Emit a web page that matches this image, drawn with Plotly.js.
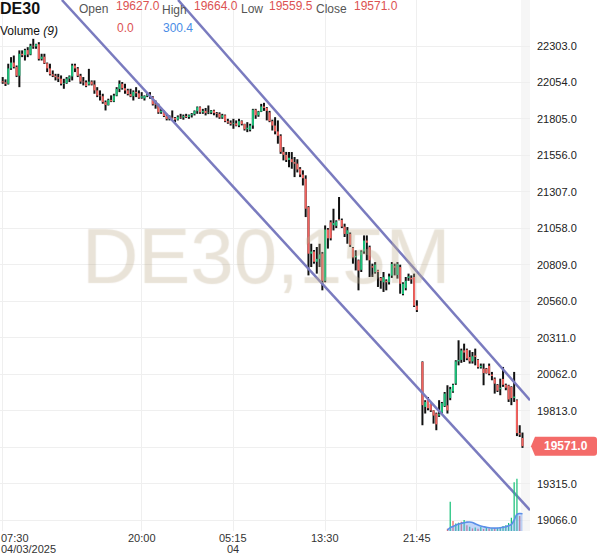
<!DOCTYPE html>
<html><head><meta charset="utf-8">
<script src="https://cdn.plot.ly/plotly-3.0.1.min.js"></script>
<style>html,body{margin:0;padding:0;background:#fff;}#chart{width:600px;height:558px;}</style>
</head><body><div id="chart"></div>
<script>
// ---- price bars (15 min), in time order ----
const openP = [22062,22055,22045,22150,22190,22160,22100,22250,22240,22275,22245,22305,22300,22315,22215,22230,22185,22150,22110,22100,
22090,22080,22045,22050,22080,22095,22170,22150,22100,22060,22055,22040,22060,22040,22000,21965,21960,21920,21900,21935,
21925,21965,22010,22045,22015,22000,21975,21960,21990,21980,21950,21945,21962,21970,21955,21905,21900,21850,21860,21825,
21805,21815,21812,21800,21820,21815,21825,21818,21830,21838,21858,21885,21850,21860,21845,21848,21862,21845,21840,21815,
21830,21790,21780,21770,21775,21760,21790,21770,21735,21730,21760,21868,21830,21855,21890,21880,21850,21790,21760,21720,
21690,21580,21560,21525,21530,21510,21500,21465,21425,21397,21203,20885,20900,20830,20850,20885,20700,21050,21100,21080,
21075,21120,21115,21070,21020,21020,20925,20860,20840,20775,20900,20975,20930,20800,20760,20770,20720,20690,20700,20690,
20735,20800,20740,20794,20610,20650,20720,20720,20726,20530,
20146,19839,19900,19860,19815,19794,19780,19800,19845,19850,19900,19945,19998,20150,20160,20225,20230,20180,20150,20190,
20160,20110,20100,20100,20120,20060,20032,19990,19960,20030,19990,19985,19975,19900,19885,19660,19627];
const highP = [22091,22075,22182,22227,22238,22170,22273,22273,22284,22295,22318,22352,22318,22329,22250,22250,22190,22182,22136,22113,
22113,22102,22079,22091,22102,22182,22182,22159,22113,22091,22068,22147,22068,22068,22022,22000,21977,21931,21943,21966,
21977,22022,22068,22057,22045,22011,22011,22000,22022,22000,21988,21966,21988,21988,21960,21931,21909,21875,21863,21840,
21829,21863,21818,21829,21840,21835,21840,21835,21845,21863,21890,21890,21874,21880,21897,21866,21868,21852,21850,21840,
21835,21806,21795,21806,21795,21806,21795,21772,21783,21772,21874,21874,21860,21908,21915,21886,21860,21800,21817,21795,
21700,21613,21580,21579,21579,21545,21530,21476,21454,21420,21210,20953,20910,20931,20953,20897,21078,21060,21113,21192,
21113,21272,21125,21090,21067,21030,20931,20908,20845,20908,21010,21010,20940,20817,20828,20775,20726,20760,20710,20749,
20828,20817,20828,20810,20690,20726,20749,20737,20749,20567,
20150,19885,19907,19862,19816,19800,19885,19873,19941,19987,19976,19998,20158,20294,20237,20271,20237,20226,20214,20237,
20165,20135,20135,20105,20135,20078,20040,19995,20032,20112,19998,19990,19980,20078,19890,19714,19664];
const lowP = [22045,22030,22040,22140,22150,22091,22022,22227,22204,22227,22240,22284,22284,22204,22204,22180,22125,22102,22091,22068,
22057,22034,22011,22045,22057,22068,22125,22091,22045,22034,22022,22034,22034,21977,21954,21931,21909,21863,21897,21920,
21920,21960,21988,22005,21977,21966,21954,21931,21954,21943,21943,21931,21954,21943,21897,21875,21840,21840,21818,21795,
21795,21808,21784,21795,21806,21800,21812,21806,21815,21829,21840,21840,21840,21829,21838,21838,21830,21815,21806,21806,
21783,21772,21760,21738,21755,21749,21761,21726,21715,21720,21738,21806,21820,21852,21860,21795,21783,21726,21700,21636,
21567,21522,21511,21476,21465,21408,21440,21408,21351,21135,20737,20794,20817,20749,20794,20635,20690,20920,20976,21044,
21060,21113,21060,20999,20953,20931,20817,20771,20635,20760,20885,20840,20726,20726,20749,20658,20646,20624,20635,20675,
20720,20737,20715,20612,20601,20635,20700,20680,20521,20487,
19714,19794,19816,19805,19725,19680,19771,19794,19839,19794,19885,19935,19990,20123,20140,20146,20158,20135,20135,20123,
20101,20101,19987,20067,20055,20021,19930,19941,19919,19976,19953,19873,19851,19873,19640,19634,19559.5];
const closeP = [22055,22045,22150,22190,22160,22100,22250,22240,22275,22245,22305,22300,22315,22215,22230,22185,22150,22110,22100,22090,
22080,22045,22050,22080,22095,22170,22150,22100,22060,22055,22030,22060,22040,22000,21965,21960,21920,21900,21935,21925,
21965,22010,22045,22015,22000,21975,21960,21990,21980,21950,21960,21962,21970,21960,21905,21900,21850,21860,21825,21805,
21815,21812,21800,21820,21815,21825,21818,21830,21838,21858,21885,21850,21860,21845,21848,21862,21845,21840,21815,21830,
21790,21780,21770,21775,21760,21790,21770,21735,21745,21760,21868,21830,21855,21890,21880,21860,21790,21760,21720,21690,
21580,21560,21525,21540,21510,21500,21460,21425,21400,21192,20885,20900,20830,20850,20880,20700,21050,20990,20990,21095,
21105,21115,21070,21020,21045,20945,20860,20870,20770,20900,20975,20960,20840,20790,20810,20760,20700,20725,20690,20730,
20815,20790,20815,20680,20680,20700,20730,20710,20530,20500,
19851,19873,19830,19815,19780,19720,19790,19865,19930,19815,19960,19990,20150,20160,20225,20210,20170,20150,20185,20180,
20110,20120,20070,20070,20065,20050,19998,19950,19970,19990,19970,19890,19900,19910,19660,19650,19571];
// the first 150 bars come before the session gap; one bar slot is empty after it
const barsBeforeGap = 150;

// ---- time axis ----
const timeTickPos = [0, 50, 83, 116, 149];
const timeTickLabels = ['07:30', '20:00', '05:15', '13:30', '21:45'];
const dateTickLabels = ['04/03/2025', '', '04', '', ''];

// ---- price axis ----
const priceTicks = [19066,19315,19564,19813,20062,20311,20560,20809,21058,21307,21556,21805,22054,22303];
const hiddenPriceTick = 19564; // covered by the last-price tag

// ---- volume (9) pane, last bars only ----
const volumeStartPos = 160;
const volume   = [40,510,175,130,145,160,190,100,75,45,60,40,70,35,60,45,50,35,55,70,85,100,140,230,850,910,260,0];
const volumeUp = [0,1,0,1,1,0,1,0,1,0,1,0,1,0,1,0,1,0,1,1,1,1,1,1,1,1,0,0];
const volumeMA = [17,60,80,100,120,135,145,155,157,150,125,105,87,75,64,57,52,50,52,56,64,75,90,115,190,290,305,300.4];

// ---- channel drawing (bar position, price) ----
const channelUpperX = [63.1, 189.7], channelUpperY = [22617, 19885];
const channelLowerX = [21.3, 189.7], channelLowerY = [22617, 19134];

// ---- header ----
const symbol = 'DE30';
const ohlcLabels = ['Open', 'High', 'Low', 'Close'];
const ohlcValues = ['19627.0', '19664.0', '19559.5', '19571.0'];
const volumeLabel = 'Volume <i>(9)</i>';
const volumeValues = ['0.0', '300.4'];
const watermark = 'DE30,15M';

// ---------- build ----------
const pos = openP.map((_, i) => i < barsBeforeGap ? i : i + 1);
const wx = [], wy = [], ux = [], uy = [], dx = [], dy = [];
pos.forEach((p, i) => {
  wx.push(p, p, null); wy.push(lowP[i], highP[i], null);
  if (closeP[i] >= openP[i]) { ux.push(p, p, null); uy.push(openP[i], closeP[i], null); }
  else { dx.push(p, p, null); dy.push(openP[i], closeP[i], null); }
});
const UP = '#1bc27b', DOWN = '#f2625e';
const volPos = volume.map((_, i) => volumeStartPos + i);

const traces = [
  {type:'bar', x: volPos, y: volume, yaxis:'y2', width:0.45,
   marker:{color: volumeUp.map(u => u ? UP : DOWN), line:{width:0}}, hoverinfo:'skip'},
  {type:'scatter', mode:'lines', x: volPos, y: volumeMA, yaxis:'y2', fill:'tozeroy',
   fillcolor:'rgba(120,165,240,0.45)', line:{color:'#5b8fe8', width:1.6, shape:'spline'}, hoverinfo:'skip'},
  {type:'scatter', mode:'lines', x: wx, y: wy, line:{color:'#111', width:2}, hoverinfo:'skip'},
  {type:'scatter', mode:'lines', x: ux, y: uy, line:{color:UP, width:2}, hoverinfo:'skip'},
  {type:'scatter', mode:'lines', x: dx, y: dy, line:{color:DOWN, width:2}, hoverinfo:'skip'},
  {type:'scatter', mode:'lines', x: channelUpperX, y: channelUpperY, line:{color:'#7a7bbf', width:2.5}, hoverinfo:'skip'},
  {type:'scatter', mode:'lines', x: channelLowerX, y: channelLowerY, line:{color:'#7a7bbf', width:2.5}, hoverinfo:'skip'}
];

const W = 530, H = 531;
const FONT = 'Liberation Sans, Arial, sans-serif';
const px = x => x / W, py = y => 1 - y / H;
const ann = [];
function txt(text, x, y, size, color, extra) {
  ann.push(Object.assign({text, xref:'paper', yref:'paper', x: px(x), y: py(y), xanchor:'left', yanchor:'middle',
    showarrow:false, borderpad:0, borderwidth:0, font:{family:FONT, size, color}}, extra || {}));
}
// watermark
ann.push({text: watermark, xref:'paper', yref:'paper', x: px(266), y: py(256), xanchor:'center', yanchor:'middle',
  showarrow:false, font:{family:FONT, size:78, color:'rgba(200,190,155,0.24)',
  shadow:'1px 0 0 rgba(170,160,125,0.16), -1px 0 0 rgba(170,160,125,0.16), 0 1px 0 rgba(170,160,125,0.16), 0 -1px 0 rgba(170,160,125,0.16)'}});
// header
txt('<b>' + symbol + '</b>', 0, 8, 16, '#111');
const labX = [79, 162, 241, 316], valX = [116, 194, 269, 354], labY = [9, 10, 9, 9];
ohlcLabels.forEach((l, i) => {
  txt(l, labX[i], labY[i], 12, '#555');
  txt(ohlcValues[i], valX[i], 6, 12, '#dc5252');
});
txt(volumeLabel, 0, 31, 12, '#111');
txt(volumeValues[0], 117, 28, 12, '#dc5252');
txt(volumeValues[1], 163, 28, 12, '#4a8de6');
// time labels
timeTickPos.forEach((p, i) => {
  const first = i === 0;
  const base = first ? {xref:'paper', x:0, xanchor:'left'} : {xref:'x', x:p, xanchor:'center'};
  ann.push(Object.assign({text: timeTickLabels[i], yref:'paper', y:0, yanchor:'top', yshift:0, showarrow:false,
    borderpad:0, font:{family:FONT, size:11, color:'#333'}}, base));
  if (dateTickLabels[i]) ann.push(Object.assign({text: dateTickLabels[i], yref:'paper', y:0, yanchor:'top', yshift:-11,
    showarrow:false, borderpad:0, font:{family:FONT, size:11, color:'#333'}}, base));
});
// last price tag
const lastClose = closeP[closeP.length - 1];
ann.push({text:'<b>' + lastClose.toFixed(1) + '</b>', xref:'paper', x:1, xanchor:'center', xshift:35.5,
  yref:'y', y:lastClose, yanchor:'middle', showarrow:false, borderpad:0, font:{family:FONT, size:12, color:'#fff'}});

const layout = {
  width:600, height:558, margin:{l:0, r:70, t:0, b:27},
  paper_bgcolor:'#fff', plot_bgcolor:'#fff', showlegend:false, hovermode:false,
  xaxis:{range:[-0.97, 189.7], tickmode:'array', tickvals: timeTickPos, showticklabels:false, ticks:'',
    showgrid:true, gridcolor:'#efefef', gridwidth:1, zeroline:false, showline:false, fixedrange:true},
  yaxis:{side:'right', range:[18992, 22617], tickmode:'array', tickvals: priceTicks,
    ticktext: priceTicks.map(v => v === hiddenPriceTick ? '' : v.toFixed(1)),
    ticks:'', ticklabelstandoff:6, tickfont:{family:FONT, size:11, color:'#222'},
    showgrid:true, gridcolor:'#efefef', zeroline:false, showline:false, fixedrange:true},
  yaxis2:{overlaying:'y', range:[0, 9250], visible:false, fixedrange:true},
  shapes:[
    {type:'rect', xref:'paper', yref:'paper', x0: px(521), x1:1, y0:0, y1:1, fillcolor:'rgba(0,0,0,0.035)', line:{width:0}, layer:'below'},
    {type:'path', xref:'paper', yref:'y', xsizemode:'pixel', ysizemode:'pixel', xanchor:1, yanchor:lastClose,
     path:'M 1 0 L 5 -9.5 L 64 -9.5 Q 67 -9.5 67 -6.5 L 67 6.5 Q 67 9.5 64 9.5 L 5 9.5 Z',
     fillcolor:'#f46b69', line:{width:0}, layer:'above'}
  ],
  annotations: ann
};
Plotly.newPlot('chart', traces, layout, {staticPlot:true, displayModeBar:false});
</script></body></html>
